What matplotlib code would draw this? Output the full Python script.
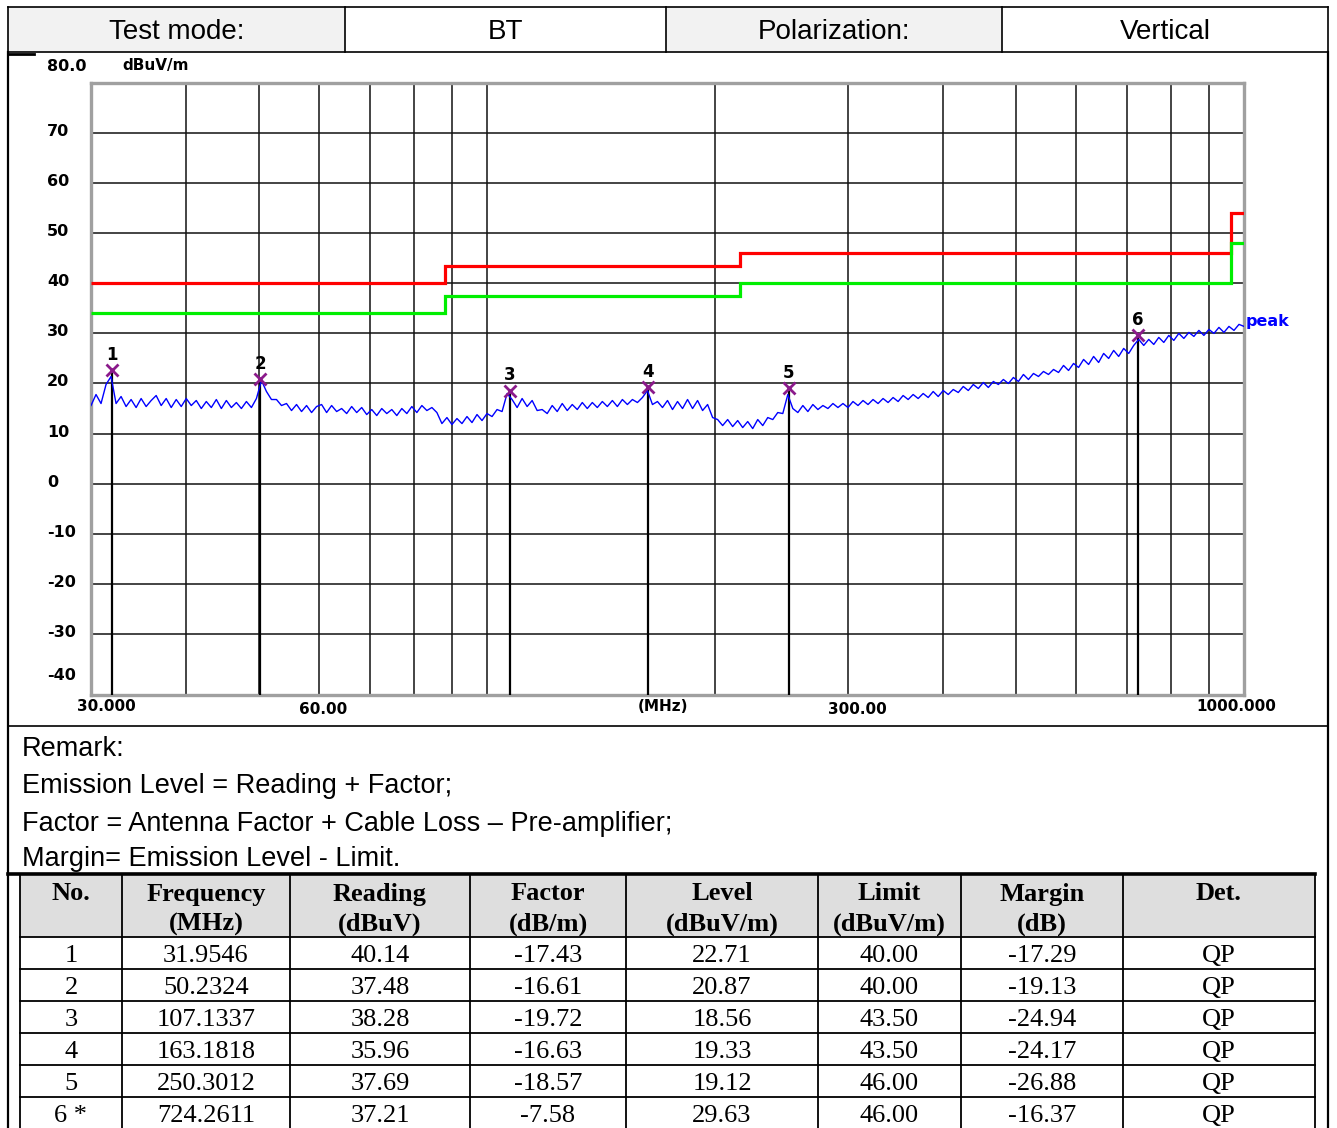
import numpy as np
import matplotlib
matplotlib.use('Agg')
import matplotlib.pyplot as plt
from matplotlib import patches, lines

W, H = 1337, 1128

# ---- data -------------------------------------------------------------
header_cells = ['Test mode:', 'BT', 'Polarization:', 'Vertical']
remarks = ['Remark:',
           'Emission Level = Reading + Factor;',
           'Factor = Antenna Factor + Cable Loss \u2013 Pre-amplifier;',
           'Margin= Emission Level - Limit.']

col_heads = [('No.', ''), ('Frequency', '(MHz)'), ('Reading', '(dBuV)'),
             ('Factor', '(dB/m)'), ('Level', '(dBuV/m)'), ('Limit', '(dBuV/m)'),
             ('Margin', '(dB)'), ('Det.', '')]
nos = ['1', '2', '3', '4', '5', '6 *']
freqs = [31.9546, 50.2324, 107.1337, 163.1818, 250.3012, 724.2611]
readings = [40.14, 37.48, 38.28, 35.96, 37.69, 37.21]
factors = [-17.43, -16.61, -19.72, -16.63, -18.57, -7.58]
levels = [22.71, 20.87, 18.56, 19.33, 19.12, 29.63]
limits = [40.00, 40.00, 43.50, 43.50, 46.00, 46.00]
margins = [-17.29, -19.13, -24.94, -24.17, -26.88, -16.37]
dets = ['QP'] * 6

limit_edges = [30, 88, 216, 960, 1000]
qp_limit = [40, 43.5, 46, 54]
green_limit = [34, 37.5, 40, 48]

# peak trace, one value per sweep step
trace_levels = [
    15.6, 17.8, 16.0, 19.8, 21.4, 16.0, 17.4, 15.4, 16.8, 15.2,
    17.0, 15.4, 16.6, 17.6, 15.6, 17.0, 15.2, 16.8, 15.4, 17.0,
    15.6, 16.6, 15.0, 16.4, 15.2, 16.8, 15.0, 16.6, 15.2, 16.2,
    15.0, 16.4, 15.2, 17.0, 20.6, 18.4, 16.8, 16.8, 15.6, 16.0,
    14.6, 15.8, 14.4, 15.6, 14.2, 15.4, 15.8, 14.2, 15.6, 14.4,
    15.0, 14.0, 15.4, 14.2, 15.2, 13.8, 14.8, 13.6, 15.0, 14.0,
    14.8, 13.6, 15.0, 14.0, 15.4, 14.2, 15.6, 14.6, 15.2, 14.2,
    12.0, 13.2, 11.8, 13.0, 12.0, 13.4, 12.2, 13.8, 12.6, 14.0,
    13.4, 14.8, 14.4, 18.0, 16.8, 15.2, 17.0, 15.4, 16.6, 14.6,
    14.8, 14.0, 15.6, 14.4, 16.0, 14.6, 15.8, 14.8, 16.2, 15.0,
    16.2, 15.2, 16.4, 15.4, 16.6, 15.4, 16.8, 15.8, 16.8, 16.2,
    17.2, 18.6, 15.8, 16.4, 15.2, 16.6, 14.8, 16.4, 15.0, 16.8,
    15.0, 16.6, 14.6, 15.8, 13.2, 12.8, 11.6, 12.8, 11.4, 12.6,
    11.2, 12.4, 11.0, 12.8, 11.6, 13.2, 12.8, 14.2, 14.0, 17.8,
    15.0, 14.2, 15.6, 14.4, 15.8, 14.8, 15.6, 15.0, 16.0, 15.2,
    16.0, 15.2, 16.4, 15.6, 16.6, 15.8, 16.8, 16.0, 17.0, 16.2,
    17.2, 16.4, 17.6, 16.8, 17.8, 17.0, 18.0, 17.2, 18.4, 17.4,
    18.6, 17.8, 18.8, 18.2, 19.4, 18.6, 19.8, 19.0, 20.2, 19.2,
    20.4, 19.8, 20.8, 20.0, 21.2, 20.4, 21.8, 20.8, 22.0, 21.4,
    22.4, 21.8, 22.8, 22.2, 23.6, 22.6, 24.0, 23.2, 24.8, 23.8,
    25.4, 24.2, 26.0, 25.0, 26.6, 25.4, 27.0, 26.0, 27.6, 28.8,
    27.6, 28.8, 27.8, 29.2, 28.2, 29.6, 28.6, 30.0, 29.0, 30.2,
    29.4, 30.6, 29.6, 30.8, 30.0, 31.2, 30.2, 31.4, 30.6, 31.8,
    31.4]
trace_freqs = np.geomspace(30, 1000, len(trace_levels))

y_labels = ['80.0', '70', '60', '50', '40', '30', '20', '10', '0',
            '-10', '-20', '-30', '-40']
x_grid = [40, 50, 60, 70, 80, 90, 100, 200, 300, 400, 500, 600, 700, 800, 900]
x_labels = ['30.000', '60.00', '(MHz)', '300.00', '1000.000']


def fx(x):
    return x / W


def fy(y):
    return 1 - y / H


def hline(fig, x0, x1, y, lw=1.2, color='k'):
    fig.add_artist(lines.Line2D([fx(x0), fx(x1)], [fy(y), fy(y)],
                                transform=fig.transFigure, color=color, lw=lw))


def vline(fig, x, y0, y1, lw=1.2, color='k'):
    fig.add_artist(lines.Line2D([fx(x), fx(x)], [fy(y0), fy(y1)],
                                transform=fig.transFigure, color=color, lw=lw))


def box(fig, x0, y0, x1, y1, fc):
    fig.add_artist(patches.Rectangle((fx(x0), fy(y1)), (x1 - x0) / W,
                                     (y1 - y0) / H, transform=fig.transFigure,
                                     facecolor=fc, edgecolor='none'))


fig = plt.figure(figsize=(W / 100, H / 100), dpi=100)
fig.patch.set_facecolor('white')

# ---- header row ---------------------------------------------------------
head_x = [8, 345, 666, 1002, 1328]
for i, txt in enumerate(header_cells):
    if i % 2 == 0:
        box(fig, head_x[i], 7, head_x[i + 1], 52, '#f2f2f2')
    fig.text(fx((head_x[i] + head_x[i + 1]) / 2), fy(32), txt,
             family='Liberation Sans', fontsize=20, ha='center', va='center')
for x in head_x:
    vline(fig, x, 7, 52)
hline(fig, 8, 1328, 7)
hline(fig, 8, 1328, 52)
hline(fig, 8, 34, 53.5, lw=2.0)

# outer borders of the lower part
vline(fig, 8, 52, 1128, lw=1.6)
vline(fig, 1328, 52, 1128, lw=1.6)
hline(fig, 8, 1328, 726)

# ---- chart ------------------------------------------------------------
ax = fig.add_axes([fx(91), fy(695), (1244 - 91) / W, (695 - 83) / H])
ax.set_xscale('log')
ax.set_xlim(30, 1000)
ax.set_ylim(-42.2, 80)
ax.set_xticks(x_grid)
ax.set_xticks([], minor=True)
ax.set_yticks(range(-30, 80, 10))
ax.tick_params(length=0, labelleft=False, labelbottom=False, which='both')
ax.grid(True, color='#111111', lw=1.1)
ax.set_axisbelow(True)
for s in ax.spines.values():
    s.set_color('#a0a0a0')
    s.set_linewidth(2.4)

ax.stairs(qp_limit, limit_edges, baseline=None, color='#ff0000', lw=2.3, zorder=3)
ax.stairs(green_limit, limit_edges, baseline=None, color='#00ee00', lw=2.3, zorder=3)

ax.plot(trace_freqs, trace_levels, color='#0000ff', lw=1.0, zorder=4)

ax.vlines(freqs, ax.get_ylim()[0], levels, color='k', lw=1.6, zorder=3)
ax.plot(freqs, levels, 'x', color='#8b1a8b', ms=9, mew=2, zorder=5)
for i, (f, lv) in enumerate(zip(freqs, levels)):
    ax.annotate(str(i + 1), (f, lv), xytext=(0, 11), textcoords='offset points',
                ha='center', va='center', fontsize=12, fontweight='bold',
                family='DejaVu Sans')

ax.text(1005, 32.4, 'peak', color='#0000ff', fontsize=11.5, fontweight='bold',
        ha='left', va='center', clip_on=False)

# axis labels
ylab_pos = [83.2, 70.3, 60.3, 50.3, 40.3, 30.3, 20.3, 10.3, 0.3,
            -9.7, -19.7, -29.7, -38.4]
ytr = ax.get_yaxis_transform()
for lab, yp in zip(y_labels, ylab_pos):
    ax.text(-0.038, yp, lab, transform=ytr, ha='left', va='center',
            fontsize=11.5, fontweight='bold', clip_on=False)
ax.text(0.027, 83.4, 'dBuV/m', transform=ytr, ha='left', va='center',
        fontsize=11, fontweight='bold', clip_on=False)

xlab_pos = [31.4, 60.7, 170.8, 309, 978]
xlab_off = [-0.018, -0.023, -0.018, -0.023, -0.018]
xtr = ax.get_xaxis_transform()
for lab, xp, yo in zip(x_labels, xlab_pos, xlab_off):
    ax.text(xp, yo, lab, transform=xtr, ha='center', va='center',
            fontsize=11, fontweight='bold', clip_on=False)

# ---- remarks ----------------------------------------------------------
for txt, y in zip(remarks, [749, 786, 824, 859]):
    fig.text(fx(22), fy(y), txt, family='Liberation Sans', fontsize=19.5,
             ha='left', va='center')

# ---- result table -------------------------------------------------------
col_x = [20, 122, 290, 470, 626, 818, 961, 1123, 1315]
row_y = [874, 937, 969, 1001, 1033, 1065, 1097, 1129]
box(fig, col_x[0], row_y[0], col_x[-1], row_y[1], '#dedede')

cells = list(zip(nos,
                 ['%.4f' % v for v in freqs],
                 ['%.2f' % v for v in readings],
                 ['%.2f' % v for v in factors],
                 ['%.2f' % v for v in levels],
                 ['%.2f' % v for v in limits],
                 ['%.2f' % v for v in margins],
                 dets))

for j, (t1, t2) in enumerate(col_heads):
    cx = fx((col_x[j] + col_x[j + 1]) / 2)
    fig.text(cx, fy(894), t1, family='Liberation Serif', fontweight='bold',
             fontsize=19, ha='center', va='center')
    if t2:
        fig.text(cx, fy(924), t2, family='Liberation Serif', fontweight='bold',
                 fontsize=19, ha='center', va='center')

for i, row in enumerate(cells):
    cy = fy((row_y[i + 1] + row_y[i + 2]) / 2 + 3)
    for j, txt in enumerate(row):
        fig.text(fx((col_x[j] + col_x[j + 1]) / 2), cy, txt,
                 family='Liberation Serif', fontsize=19, ha='center', va='center')

hline(fig, 8, col_x[-1], row_y[0], lw=2.6)
for y in row_y[1:]:
    hline(fig, col_x[0], col_x[-1], y, lw=1.3)
for x in col_x:
    vline(fig, x, row_y[0], 1128, lw=1.3)

fig.savefig('out.png', dpi=100)
